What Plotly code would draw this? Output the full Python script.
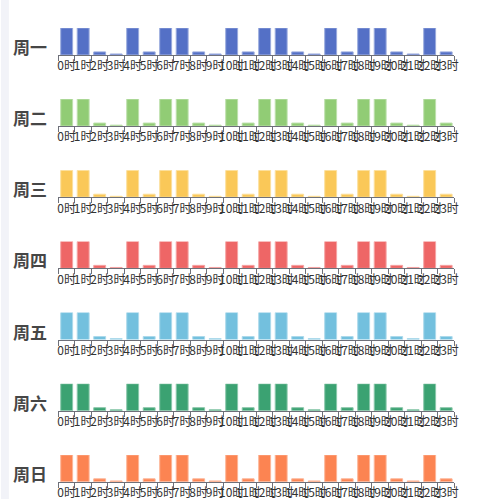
import plotly.graph_objects as go

days = ["周一", "周二", "周三", "周四", "周五", "周六", "周日"]
hours = ["0时", "1时", "2时", "3时", "4时", "5时", "6时", "7时", "8时", "9时", "10时", "11时",
         "12时", "13时", "14时", "15时", "16时", "17时", "18时", "19时", "20时", "21时", "22时", "23时"]
hour_values = [9, 9, 1, 0.3, 9, 1, 9, 9, 1, 0.3, 9, 1,
               9, 9, 1, 0.3, 9, 1, 9, 9, 1, 0.3, 9, 1]
day_values = [hour_values for _ in days]
colors = ["#5470c6", "#91cc75", "#fac858", "#ee6666", "#73c0de", "#3ba272", "#fc8452"]
borders = ["#98a9dd", "#bde0ac", "#fcdf9b", "#f5a3a3", "#abd9eb", "#89c7aa", "#fdb597"]

W = H = 500
x0, x1 = 58, 458
axis_y0 = 55
row_step = 71.3
bar_h = 27

fig = go.Figure()
layout = dict(
    width=W, height=H,
    margin=dict(l=0, r=0, t=0, b=0),
    paper_bgcolor="white", plot_bgcolor="white",
    showlegend=False,
    bargap=0.28,
    font=dict(family="Noto Sans CJK SC", color="#333"),
    shapes=[dict(type="rect", xref="paper", yref="paper", x0=0, x1=8 / W, y0=0, y1=1,
                 fillcolor="#f2f3f8", line=dict(width=0), layer="below")],
    annotations=[],
)

for i, d in enumerate(days):
    ay = axis_y0 + row_step * i
    xa = "x" if i == 0 else f"x{i+1}"
    ya = "y" if i == 0 else f"y{i+1}"
    fig.add_trace(go.Bar(
        x=hours, y=day_values[i], xaxis=xa, yaxis=ya,
        marker=dict(color=colors[i], line=dict(color=borders[i], width=1)),
        hoverinfo="x+y",
    ))
    key = "" if i == 0 else str(i + 1)
    layout["xaxis" + key] = dict(
        domain=[x0 / W, x1 / W], anchor=ya, type="category",
        showline=True, linecolor="#6e7079", linewidth=1,
        ticks="outside", tickson="boundaries", ticklen=5, tickcolor="#6e7079",
        tickfont=dict(size=12, color="#333", family="Noto Sans CJK SC"),
        showgrid=False, zeroline=False, tickangle=0, fixedrange=True,
    )
    layout["yaxis" + key] = dict(
        domain=[(H - ay) / H, (H - ay + bar_h) / H], anchor=xa,
        range=[0, 9], showticklabels=False, showgrid=False, zeroline=False,
        showline=False, ticks="", fixedrange=True,
    )
    layout["annotations"].append(dict(
        text=f"<b>{d}</b>", xref="paper", yref="paper",
        x=48 / W, y=(H - (ay - 8.5)) / H, xanchor="right", yanchor="middle",
        showarrow=False, font=dict(size=17, color="#464646", family="Noto Sans CJK SC"),
    ))

fig.update_layout(**layout)
fig.write_html("out.html", config={"displayModeBar": False},
               post_script="document.body.style.margin='0';document.body.style.overflow='hidden';")
